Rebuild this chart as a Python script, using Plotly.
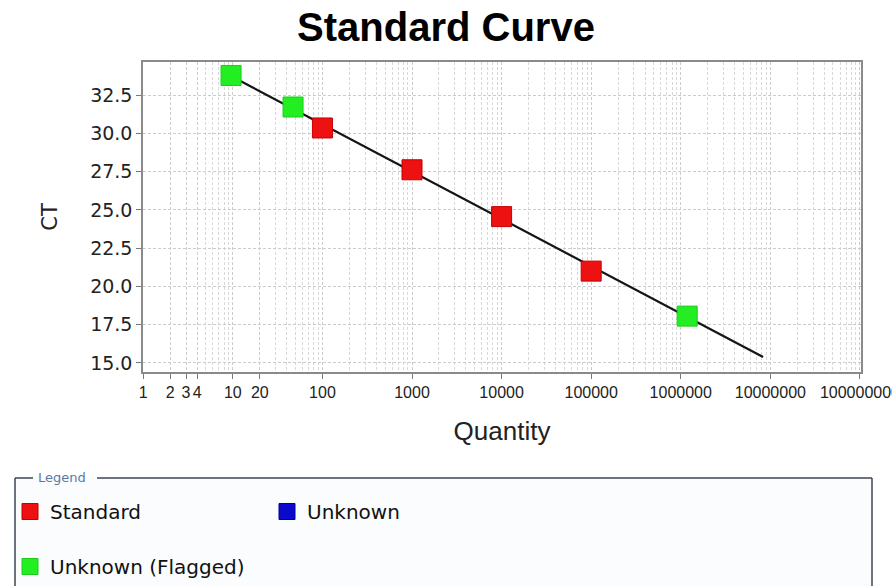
import plotly.graph_objects as go

# Standard curve data (quantity vs. threshold cycle)
std_qty = [100, 1000, 10000, 100000]
std_ct = [30.35, 27.62, 24.56, 21.0]

# No unknown samples in this run; a single empty point keeps the legend entry
unknown_qty = [None]
unknown_ct = [None]

flagged_qty = [9.55, 47, 1180000]
flagged_ct = [33.78, 31.72, 18.06]

# Regression line end points
fit_qty = [9.55, 8300000]
fit_ct = [33.74, 15.39]

x_tickvals = [1, 2, 3, 4, 10, 20, 100, 1000, 10000, 100000, 1000000, 10000000, 100000000]
x_ticktext = ["1", "2", "3", "4", "10", "20", "100", "1000", "10000", "100000",
              "1000000", "10000000", "100000000"]
y_tickvals = [15.0, 17.5, 20.0, 22.5, 25.0, 27.5, 30.0, 32.5]

RED = "#ee1111"
BLUE = "#0a0acc"
GREEN = "#22ee22"

fig = go.Figure()

fig.add_trace(go.Scatter(
    x=fit_qty, y=fit_ct, mode="lines",
    line=dict(color="#151515", width=2.2),
    showlegend=False, hoverinfo="skip",
))
fig.add_trace(go.Scatter(
    x=std_qty, y=std_ct, mode="markers", name="Standard<br> ", legendgroup="col1",
    marker=dict(symbol="square", size=20, color=RED, line=dict(color="#c40000", width=1)),
))
fig.add_trace(go.Scatter(
    x=unknown_qty, y=unknown_ct, mode="markers", name="Unknown", legendgroup="col2",
    marker=dict(symbol="square", size=20, color=BLUE, line=dict(color="#000099", width=1)),
))
fig.add_trace(go.Scatter(
    x=flagged_qty, y=flagged_ct, mode="markers", name="Unknown (Flagged)", legendgroup="col1",
    marker=dict(symbol="square", size=20, color=GREEN, line=dict(color="#1ccc1c", width=1)),
))

grid_dash = "3px,2px"

fig.update_xaxes(
    type="log", range=[-0.003, 8.012],
    tickmode="array", tickvals=x_tickvals, ticktext=x_ticktext,
    ticks="outside", ticklen=5, tickcolor="#777777",
    ticklabeloverflow="allow",
    tickfont=dict(family="Liberation Sans, Arial", size=16, color="#222222"),
    showgrid=True, gridcolor="#cccccc", griddash=grid_dash, gridwidth=1,
    minor=dict(dtick="D1", showgrid=True, gridcolor="#d8d8d8", griddash=grid_dash,
               gridwidth=1, ticks=""),
    showline=True, linecolor="#8a8a8a", linewidth=1.5, mirror=True,
    zeroline=False,
    title=dict(text="Quantity", standoff=22,
               font=dict(family="Liberation Sans, Arial", size=26, color="#222222")),
)
fig.update_yaxes(
    range=[14.41, 34.66],
    tickmode="array", tickvals=y_tickvals, tickformat=".1f",
    ticks="outside", ticklen=5, tickcolor="#777777",
    tickfont=dict(family="DejaVu Sans", size=19, color="#222222"),
    showgrid=True, gridcolor="#cccccc", griddash=grid_dash, gridwidth=1,
    showline=True, linecolor="#8a8a8a", linewidth=1.5, mirror=True,
    zeroline=False,
    title=dict(text="CT", standoff=27,
               font=dict(family="DejaVu Sans", size=21, color="#222222")),
)

# Legend frame below the plot
frame_color = "#3c4650"
fig.add_shape(type="rect", xref="paper", yref="paper",
              x0=(15 - 143) / 718, x1=(872 - 143) / 718,
              y0=(372 - 600) / 310, y1=(372 - 478) / 310,
              line=dict(width=0), fillcolor="#fafcfe", layer="below")
for (xa, ya, xb, yb) in [(15, 478, 33, 478), (97, 478, 872, 478),
                         (15, 478, 15, 600), (872, 478, 872, 600)]:
    fig.add_shape(type="line", xref="paper", yref="paper",
                  x0=(xa - 143) / 718, x1=(xb - 143) / 718,
                  y0=(372 - ya) / 310, y1=(372 - yb) / 310,
                  line=dict(color=frame_color, width=1.5))
fig.add_annotation(text="Legend", xref="paper", yref="paper",
                   x=(36 - 143) / 718, y=(372 - 477) / 310,
                   xanchor="left", yanchor="middle", showarrow=False,
                   font=dict(family="DejaVu Sans", size=13, color="#5a78a6"))

fig.update_layout(
    width=892, height=586,
    margin=dict(l=143, r=31, t=62, b=214, autoexpand=False),
    paper_bgcolor="white", plot_bgcolor="white",
    title=dict(text="<b>Standard Curve</b>", x=0.5, xanchor="center",
               y=1 - 27 / 586, yanchor="middle",
               font=dict(family="Liberation Sans, Arial", size=40, color="black")),
    legend=dict(
        orientation="h", x=(10 - 143) / 718, xanchor="left",
        y=(372 - 492) / 310, yanchor="top",
        traceorder="grouped", tracegroupgap=0,
        entrywidth=212, entrywidthmode="pixels",
        valign="top", itemsizing="trace",
        font=dict(family="DejaVu Sans", size=20, color="#111111"),
        bgcolor="rgba(0,0,0,0)", borderwidth=0,
    ),
    showlegend=True,
)

fig.write_html("out.html")
